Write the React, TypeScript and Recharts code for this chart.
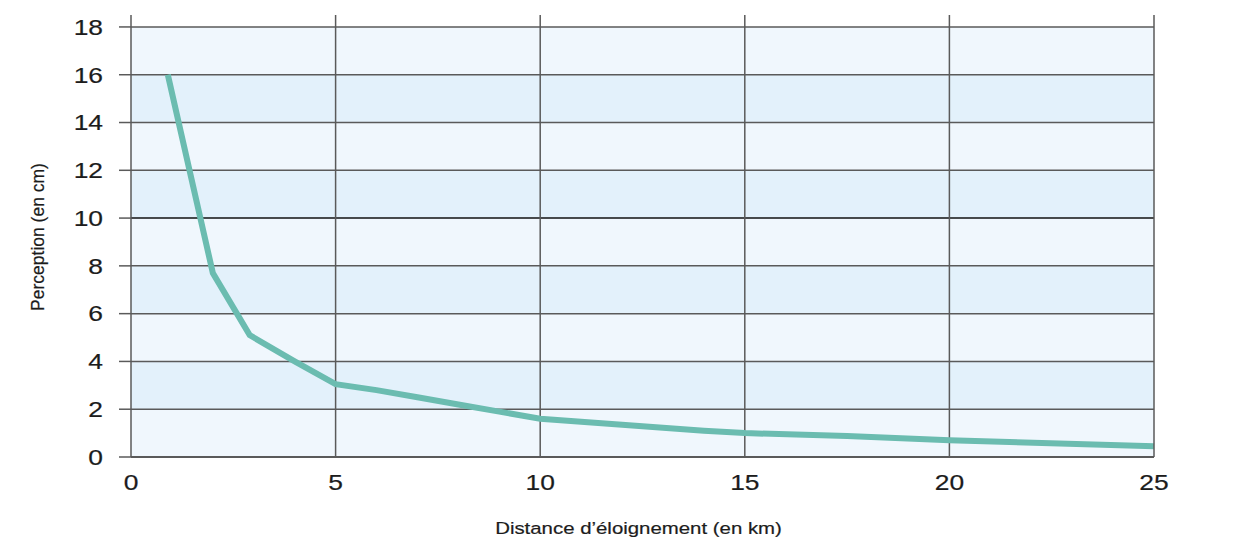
import React from 'react';
import {
  ComposedChart,
  Line,
  XAxis,
  YAxis,
  ReferenceArea,
  ReferenceLine,
  Label,
} from 'recharts';

// distance (km) -> perceived size (cm)
const distances = [0.9, 2, 2.9, 4, 5, 6, 7, 8, 9, 10, 12, 14, 15, 17.5, 20, 25];
const perception = [16, 7.7, 5.1, 4.0, 3.05, 2.8, 2.5, 2.2, 1.9, 1.6, 1.35, 1.1, 1.0, 0.88, 0.7, 0.45];

const xTicks = [0, 5, 10, 15, 20, 25];
const yTicks = [0, 2, 4, 6, 8, 10, 12, 14, 16, 18];

const data = distances.map((d, i) => ({ d, p: perception[i] }));

// alternating background bands, one per 2 cm step
const bands = yTicks.slice(0, -1).map((y, i) => ({
  y1: y,
  y2: yTicks[i + 1],
  fill: i % 2 === 0 ? '#f0f7fd' : '#e3f1fb',
}));

const FONT = '"Liberation Sans", Arial, sans-serif';
const GRID = '#5a5a5a';
const INK = '#1c1c1c';
// the printed chart is a bit stretched sideways, so the lettering is too
const STRETCH = 1.2;

function Tick({ x, y, payload, textAnchor, dy }: any) {
  return (
    <text
      transform={`translate(${x},${y}) scale(${STRETCH},1)`}
      textAnchor={textAnchor}
      dy={dy}
      fontFamily={FONT}
      fontSize={22}
      fill={INK}
      stroke={INK}
      strokeWidth={0.2}
    >
      {payload.value}
    </text>
  );
}

export default function App() {
  return (
    <div style={{ position: 'absolute', left: 0, top: 0, background: '#fff' }}>
      <ComposedChart
        width={1233}
        height={540}
        data={data}
        margin={{ top: 15, right: 0, bottom: 53, left: 0 }}
      >
        {bands.map((b) => (
          <ReferenceArea
            key={'band' + b.y1}
            yAxisId="left"
            x1={0}
            x2={25}
            y1={b.y1}
            y2={b.y2}
            fill={b.fill}
            fillOpacity={1}
            stroke="none"
          />
        ))}
        {yTicks.slice(1).map((y) => (
          <ReferenceLine
            key={'h' + y}
            yAxisId="left"
            y={y}
            stroke={y === 10 ? '#111' : GRID}
            strokeWidth={1.5}
          />
        ))}
        {xTicks.slice(1, -1).map((x) => (
          <ReferenceLine key={'v' + x} yAxisId="left" x={x} stroke={GRID} strokeWidth={1.5} />
        ))}
        <XAxis
          dataKey="d"
          type="number"
          domain={[0, 25]}
          ticks={xTicks}
          tickLine={false}
          tickMargin={11}
          axisLine={{ stroke: GRID, strokeWidth: 2 }}
          tick={(p: any) => <Tick {...p} dy="0.71em" />}
          height={30}
        >
          <Label
            content={({ viewBox }: any) => (
              <text
                transform={`translate(${viewBox.x + viewBox.width / 2 - 4},${viewBox.y + 77}) scale(${STRETCH},1)`}
                textAnchor="middle"
                fontFamily={FONT}
                fontSize={17}
                fill={INK}
                stroke={INK}
                strokeWidth={0.2}
              >
                Distance d’éloignement (en km)
              </text>
            )}
          />
        </XAxis>
        <YAxis
          yAxisId="left"
          orientation="left"
          type="number"
          domain={[0, 18.5]}
          ticks={yTicks}
          width={131}
          tickSize={12}
          tickMargin={16}
          tickLine={{ stroke: GRID, strokeWidth: 1.5 }}
          axisLine={{ stroke: GRID, strokeWidth: 1.5 }}
          tick={(p: any) => <Tick {...p} dy="0.355em" />}
        >
          <Label
            content={({ viewBox }: any) => {
              const cx = 38;
              const cy = viewBox.y + viewBox.height / 2 + 1;
              return (
                <text
                  x={cx}
                  y={cy}
                  transform={`rotate(-90, ${cx}, ${cy})`}
                  textAnchor="middle"
                  dominantBaseline="central"
                  fontFamily={FONT}
                  fontSize={17.5}
                  fill={INK}
                  stroke={INK}
                  strokeWidth={0.2}
                >
                  Perception (en cm)
                </text>
              );
            }}
          />
        </YAxis>
        <YAxis
          yAxisId="right"
          orientation="right"
          type="number"
          domain={[0, 18.5]}
          ticks={yTicks}
          width={79}
          tickSize={11}
          tickMargin={11}
          tickLine={{ stroke: GRID, strokeWidth: 1.5 }}
          axisLine={{ stroke: GRID, strokeWidth: 1.5 }}
          tick={(p: any) => <Tick {...p} dy="0.355em" />}
        />
        <Line
          yAxisId="left"
          type="linear"
          dataKey="p"
          stroke="#6bbcb0"
          strokeWidth={6}
          dot={false}
          activeDot={false}
          isAnimationActive={false}
        />
      </ComposedChart>
    </div>
  );
}
